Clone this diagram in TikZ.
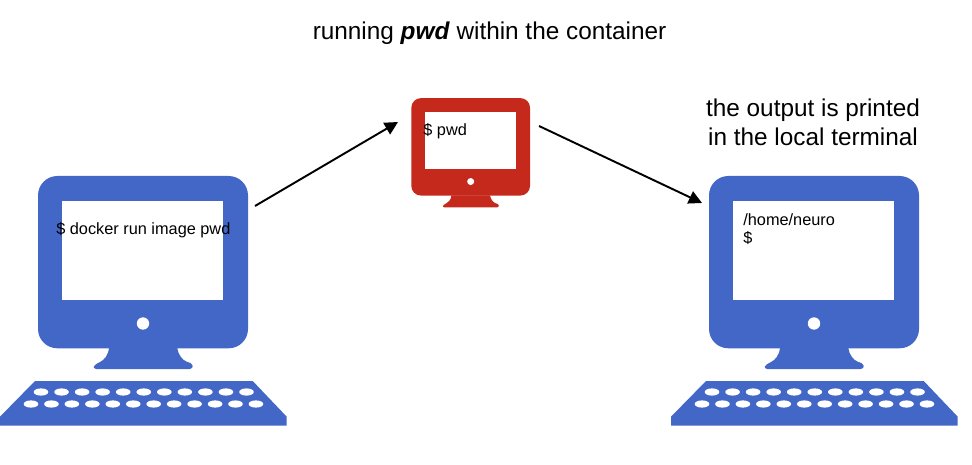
\documentclass[tikz,border=0pt]{standalone}
\usepackage{fontspec}
\setmainfont{Liberation Sans}
\usetikzlibrary{arrows.meta}
\definecolor{monblue}{HTML}{4367C6}
\definecolor{monred}{HTML}{C4291C}
\tikzset{
  screentext/.style={inner sep=0pt, anchor=west, font=\fontsize{9.28}{10.2}\selectfont, align=left},
  headtext/.style={inner sep=0pt, font=\fontsize{13.85}{16.4}\selectfont, align=center},
  flow/.style={line width=1.1pt, -{Stealth[length=7.5pt,width=7.5pt,inset=0pt]}},
  pics/monitor/.style 2 args={code={
    \fill[#1, rounded corners=#2] (38,176) rectangle (248,348.3);
    \fill[#1] (109,348) .. controls (108,356) and (104,360) .. (100,362)
      .. controls (96,364) and (93,366) .. (94,368) .. controls (94.5,369) and (95,369) .. (96,369)
      -- (190,369) .. controls (192,369) and (193,367) .. (192.7,365.5)
      .. controls (192,363) and (189,362.5) .. (186.7,361.7)
      .. controls (182,360) and (178,354) .. (177.3,348) -- cycle;
    \fill[white] (62,200.7) rectangle (223,300.5);
    \fill[white] (143,323.5) circle (6.2);
  }},
  pics/keyboard/.style={code={
    \fill[monblue] (35,381) -- (252.7,381) -- (286.7,416.7) -- (286.7,425.7)
      -- (0,425.7) -- (0,416.7) -- cycle;
    \foreach \k in {0,...,10}
      \fill[white] (41+20.55*\k,392) ellipse (7.3 and 3.6);
    \foreach \k in {0,...,11}
      \fill[white] (31+20.45*\k,404) ellipse (7.3 and 3.6);
  }},
}
\begin{document}
\begin{tikzpicture}[x=0.02cm, y=-0.02cm]
  \useasboundingbox (0,0) rectangle (972,465);
  % Left computer
  \pic at (0,0) {monitor={monblue}{11pt}};
  \pic at (0,0) {keyboard};
  % Container
  \pic[scale=0.5655] at (389.8,-1.4) {monitor={monred}{5.5pt}};
  % Right computer
  \pic at (671,0) {monitor={monblue}{11pt}};
  \pic at (671,0) {keyboard};
  % Texts
  \node[headtext] (title) at (489.5,33.5) {running \textbf{\textit{pwd}} within the container};
  \node[headtext] (output) at (813,122.5) {the output is printed\\in the local terminal};
  \node[screentext] (cmdlocal) at (56,230) {\$ docker run image pwd};
  \node[screentext] (cmdpwd) at (423,131) {\$ pwd};
  \node[screentext] (result) at (743,229) {/home/neuro\\\$};
  % Arrows
  \coordinate (leftend) at (255,206);
  \coordinate (redin) at (398,122);
  \coordinate (redout) at (539,126);
  \coordinate (rightend) at (702,203);
  \draw[flow] (leftend) -- (redin);
  \draw[flow] (redout) -- (rightend);
\end{tikzpicture}
\end{document}
